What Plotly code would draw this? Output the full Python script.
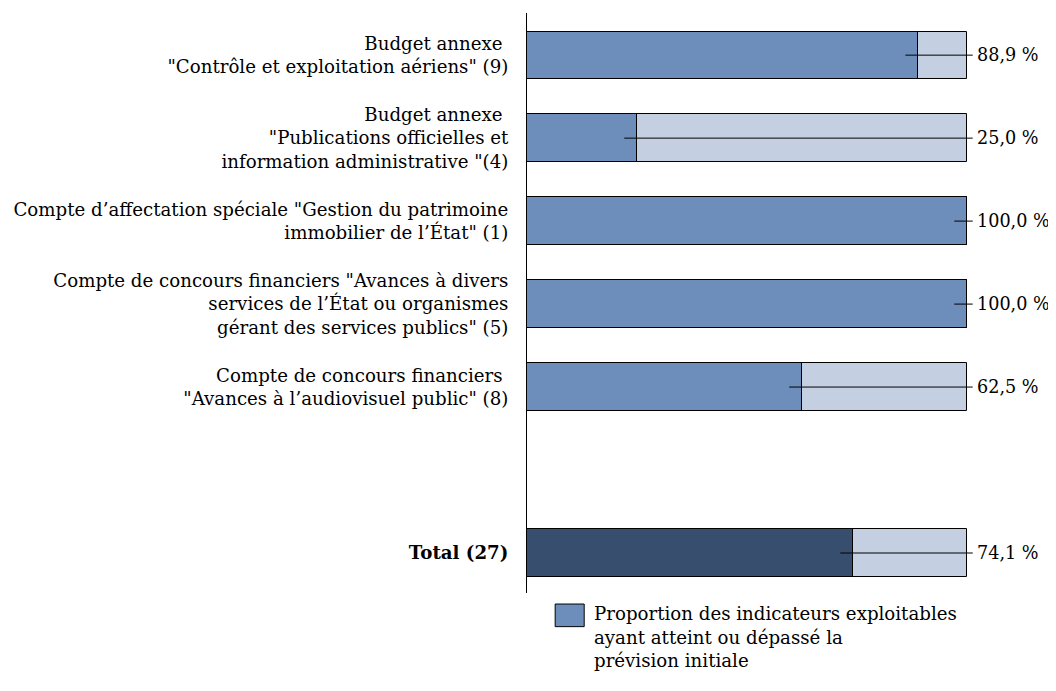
import plotly.graph_objects as go

# ---- data ----
categories = [
    "Budget annexe\u00a0<br>\"Contrôle et exploitation aériens\" (9)",
    "Budget annexe\u00a0<br>\"Publications officielles et<br>information administrative \"(4)",
    "Compte d’affectation spéciale \"Gestion du patrimoine<br>immobilier de l’État\" (1)",
    "Compte de concours financiers \"Avances à divers<br>services de l’État ou organismes<br>gérant des services publics\" (5)",
    "Compte de concours financiers\u00a0<br>\"Avances à l’audiovisuel public\" (8)",
    "<b>Total (27)</b>",
]
positions = [0, 1, 2, 3, 4, 6]
values = [88.9, 25.0, 100.0, 100.0, 62.5, 74.1]
is_total = [False, False, False, False, False, True]
full = [100.0] * len(values)
legend_text = "Proportion des indicateurs exploitables<br>ayant atteint ou dépassé la<br>prévision initiale"

# ---- style ----
FONT = "DejaVu Serif"
FS = 18.2
FS_VAL = 17.6
C_MAIN = "#6d8ebb"
C_LIGHT = "#c4cfe2"
C_TOTAL = "#384e6f"
BAR_W = 0.57
LEADER_BACK = 2.9
LEADER_END = 101.3
LABEL_X = 101.9

fig = go.Figure()
fig.add_trace(go.Bar(
    y=positions, x=full, orientation="h", width=BAR_W,
    marker=dict(color=C_LIGHT, line=dict(color="black", width=1)),
    showlegend=False, hoverinfo="skip",
))
fig.add_trace(go.Bar(
    y=positions, x=values, orientation="h", width=BAR_W,
    marker=dict(color=[C_TOTAL if t else C_MAIN for t in is_total],
                line=dict(color="black", width=1)),
    showlegend=False,
))

# leader lines and value labels
for p, v in zip(positions, values):
    fig.add_shape(type="line", xref="x", yref="y",
                  x0=v - LEADER_BACK, x1=LEADER_END, y0=p, y1=p,
                  line=dict(color="black", width=1))
    fig.add_annotation(x=LABEL_X, y=p, xref="x", yref="y",
                       text=f"{v:.1f}".replace(".", ",") + " %",
                       showarrow=False, xanchor="left", yanchor="middle",
                       font=dict(family=FONT, size=FS_VAL, color="black"))

# legend (manual)
fig.add_shape(type="rect", xref="x", yref="paper",
              x0=6.4, x1=13.0, y0=-0.019, y1=-0.058,
              fillcolor=C_MAIN, line=dict(color="black", width=1))
fig.add_annotation(x=14.8, y=-0.013, xref="x", yref="paper",
                   text=legend_text, showarrow=False, align="left",
                   xanchor="left", yanchor="top",
                   font=dict(family=FONT, size=FS, color="black"))

fig.update_layout(
    width=1048, height=683,
    margin=dict(l=519, r=1, t=5, b=98),
    paper_bgcolor="white", plot_bgcolor="white",
    barmode="overlay", bargap=0,
    font=dict(family=FONT, size=FS, color="black"),
    xaxis=dict(range=[0, 120], visible=False, fixedrange=True),
    yaxis=dict(range=[6.482, -0.508], tickvals=positions, ticktext=categories,
               showgrid=False, zeroline=False, showline=True,
               linecolor="black", linewidth=1, ticks="",
               automargin=False, ticklabelstandoff=14,
               tickfont=dict(family=FONT, size=FS, color="black")),
)

fig.write_html("out.html")
